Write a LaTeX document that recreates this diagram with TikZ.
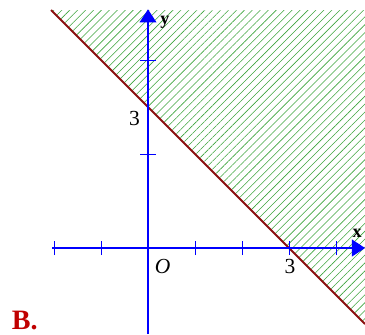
\documentclass[tikz,border=0pt]{standalone}
\usepackage{fontspec}
\setmainfont{Liberation Serif}
\usepackage{xcolor}
\usepackage{tikz}
\usetikzlibrary{positioning, arrows.meta, calc, patterns.meta}
\definecolor{axisblue}{HTML}{0000FF}
\definecolor{hatchgreen}{HTML}{3DA33D}
\definecolor{bordred}{HTML}{8B1010}
\definecolor{labelred}{HTML}{C00000}

\begin{document}
\begin{tikzpicture}[
    axis/.style={axisblue, line width=1.5pt, -{Triangle[length=8pt, width=10pt]}},
    tick/.style={axisblue, line width=0.6pt},
    lbl/.style={inner sep=0pt, font=\fontsize{11}{12}\selectfont}
  ]
    \useasboundingbox (-3.149,-1.830) rectangle (4.617,5.277);

    % half-plane x + y >= 3
    \coordinate (tl) at (-2.064,5.064);
    \coordinate (tr) at (4.617,5.064);
    \coordinate (br) at (4.617,-1.617);
    \fill[pattern={Lines[angle=45, distance=3.4pt, line width=0.35pt]}, pattern color=hatchgreen]
      (tl) -- (tr) -- (br) -- cycle;
    \draw[bordred, line width=1.1pt] (tl) -- (br);

    % axes
    \coordinate (xl) at (-2.04,0);
    \coordinate (xr) at (4.62,0);
    \coordinate (yb) at (0,-1.83);
    \coordinate (yt) at (0,5.08);
    \draw[axis] (xl) -- (xr);
    \draw[axis] (yb) -- (yt);

    \foreach \i in {-2,-1,1,2,3,4}
      \draw[tick] (\i,-0.15) -- (\i,0.15);
    \foreach \j in {2,4}
      \draw[tick] (-0.17,\j) -- (0.17,\j);

    % labels
    \node[lbl, font=\fontsize{11}{12}\selectfont\bfseries] (ylab) at (0.36,4.81) {y};
    \node[lbl, font=\fontsize{11}{12}\selectfont\bfseries] (xlab) at (4.45,0.32) {x};
    \node[lbl, font=\fontsize{13}{14}\selectfont] (ythree) at (-0.29,2.76) {3};
    \node[lbl, font=\fontsize{13}{14}\selectfont] (xthree) at (3.02,-0.40) {3};
    \node[lbl, font=\fontsize{13}{14}\selectfont\itshape] (orig) at (0.31,-0.40) {O};
    \node[lbl, labelred, font=\fontsize{17}{20}\selectfont\bfseries] (ans) at (-2.62,-1.55) {B.};
  \end{tikzpicture}
\end{document}
